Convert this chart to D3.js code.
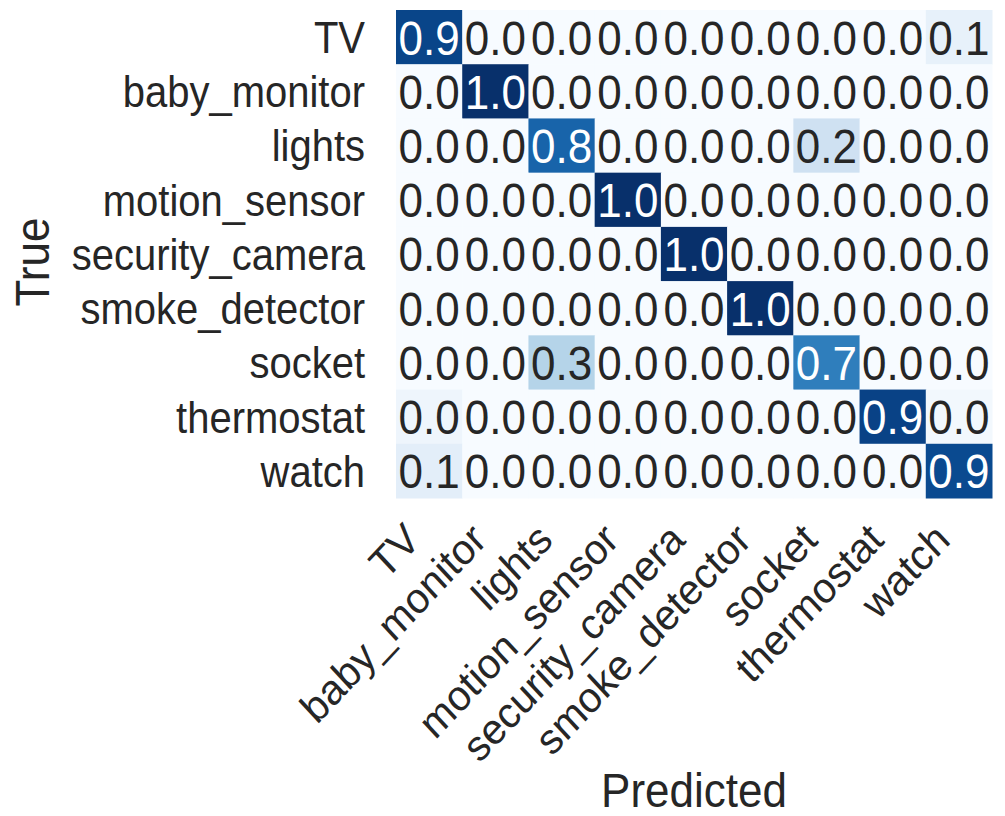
<!DOCTYPE html>
<html>
<head>
<meta charset="utf-8">
<script src="https://cdn.jsdelivr.net/npm/d3@7"></script>
<style>
  body { margin: 0; background: #fff; }
  text { font-family: "Liberation Sans", Arial, sans-serif; }
</style>
</head>
<body>
<div id="cm"></div>
<script>
// class names (rows = true, cols = predicted)
var classes = ["TV", "baby_monitor", "lights", "motion_sensor", "security_camera",
    "smoke_detector", "socket", "thermostat", "watch"];

// normalized confusion matrix, one array per true class
var rowTV            = [0.92, 0.0, 0.0, 0.0, 0.0, 0.0, 0.0, 0.0, 0.08];
var rowBabyMonitor   = [0.0, 1.0, 0.0, 0.0, 0.0, 0.0, 0.0, 0.0, 0.0];
var rowLights        = [0.0, 0.0, 0.8, 0.0, 0.0, 0.0, 0.2, 0.0, 0.0];
var rowMotionSensor  = [0.0, 0.0, 0.0, 1.0, 0.0, 0.0, 0.0, 0.0, 0.0];
var rowSecurityCam   = [0.0, 0.0, 0.0, 0.0, 1.0, 0.0, 0.0, 0.0, 0.0];
var rowSmokeDetector = [0.0, 0.0, 0.0, 0.0, 0.0, 1.0, 0.0, 0.0, 0.0];
var rowSocket        = [0.0, 0.0, 0.3, 0.0, 0.0, 0.0, 0.7, 0.0, 0.0];
var rowThermostat    = [0.045, 0.0, 0.0, 0.0, 0.0, 0.0, 0.0, 0.93, 0.025];
var rowWatch         = [0.1, 0.0, 0.0, 0.0, 0.0, 0.0, 0.0, 0.0, 0.9];

var matrix = [rowTV, rowBabyMonitor, rowLights, rowMotionSensor, rowSecurityCam,
    rowSmokeDetector, rowSocket, rowThermostat, rowWatch];

var xLabel = "Predicted";
var yLabel = "True";

// drawing area
var width = 1005, height = 816;
var margin = {top: 10, right: 13, bottom: 318, left: 396};
var sy = 1.1; // text in the picture is slightly taller than wide

var svg = d3.select("#cm").append("svg")
    .attr("width", width)
    .attr("height", height);

var x = d3.scaleBand()
    .domain(classes)
    .range([margin.left, width - margin.right]);

var y = d3.scaleBand()
    .domain(classes)
    .range([margin.top, height - margin.bottom]);

var color = d3.scaleSequential(d3.interpolateBlues).domain([0, 1]);

var cells = [];
matrix.forEach(function(row, i) {
    row.forEach(function(v, j) {
        cells.push({t: classes[i], p: classes[j], value: v});
    });
});

svg.selectAll(".cell")
    .data(cells)
    .enter()
    .append("rect")
    .attr("class", "cell")
    .attr("x", function(d) { return x(d.p); })
    .attr("y", function(d) { return y(d.t); })
    .attr("width", x.bandwidth() + 0.5)
    .attr("height", y.bandwidth() + 0.5)
    .style("fill", function(d) { return color(d.value); });

svg.selectAll(".annot")
    .data(cells)
    .enter()
    .append("text")
    .attr("class", "annot")
    .attr("transform", function(d) {
        return "translate(" + (x(d.p) + x.bandwidth() / 2) + "," + (y(d.t) + y.bandwidth() / 2) + ") scale(1," + sy + ")";
    })
    .attr("dy", "0.36em")
    .attr("text-anchor", "middle")
    .style("font-size", "44px")
    .style("fill", function(d) { return d.value > 0.5 ? "#ffffff" : "#262626"; })
    .text(function(d) { return d.value.toFixed(1); });

// y axis (true labels)
var yAxis = svg.append("g")
    .attr("transform", "translate(" + margin.left + ",0)")
    .call(d3.axisLeft(y).tickSize(0).tickPadding(31));
yAxis.select(".domain").remove();
yAxis.selectAll("text")
    .attr("dy", "0.36em")
    .attr("transform", "scale(1," + sy + ")")
    .style("font-size", "40px")
    .style("font-family", "'Liberation Sans', Arial, sans-serif")
    .style("fill", "#262626");

// x axis (predicted labels), rotated 45 degrees
var xAxis = svg.append("g")
    .attr("transform", "translate(0," + (height - margin.bottom) + ")")
    .call(d3.axisBottom(x).tickSize(0).tickFormat(""));
xAxis.select(".domain").remove();
xAxis.selectAll(".tick")
    .append("text")
    .attr("transform", "translate(-7,44) scale(1,1.07) rotate(-45)")
    .attr("text-anchor", "end")
    .style("font-size", "40px")
    .style("fill", "#262626")
    .text(function(d) { return d; });

// axis titles
svg.append("text")
    .attr("transform", "translate(" + ((margin.left + width - margin.right) / 2) + ",807) scale(1," + sy + ")")
    .attr("text-anchor", "middle")
    .style("font-size", "44px")
    .style("fill", "#262626")
    .text(xLabel);

svg.append("text")
    .attr("transform", "translate(49," + ((margin.top + height - margin.bottom) / 2 + 8) + ") scale(" + sy + ",1) rotate(-90)")
    .attr("text-anchor", "middle")
    .style("font-size", "44px")
    .style("fill", "#262626")
    .text(yLabel);
</script>
</body>
</html>
